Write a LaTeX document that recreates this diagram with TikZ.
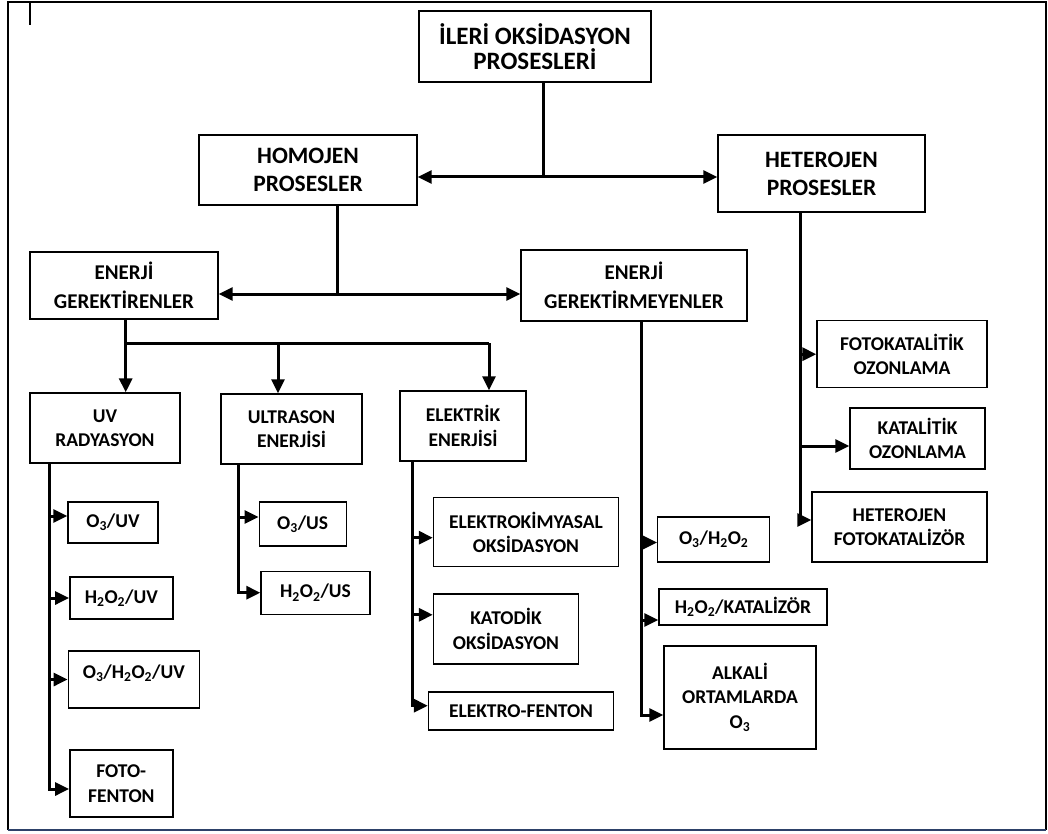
\documentclass[tikz,border=0pt]{standalone}
\usepackage{fontspec}
\setmainfont{Carlito}
\usepackage{tikz}
\usetikzlibrary{arrows.meta}
\definecolor{framebot}{RGB}{45,65,105}
\tikzstyle{box} = [draw, line width=1.4pt, inner sep=0pt, align=center]
\tikzstyle{lvlone} = [box, font=\fontsize{23.5}{28}\selectfont\bfseries]
\tikzstyle{lvltwo} = [box, font=\fontsize{21}{29}\selectfont\bfseries]
\tikzstyle{leaf} = [box, font=\fontsize{19.5}{24.5}\selectfont\bfseries]
\tikzstyle{trunk} = [draw, line width=3pt, line join=miter]
\tikzstyle{arr} = [trunk, -{Triangle[length=14pt,width=13pt]}]

\begin{document}
\begin{tikzpicture}[x=1pt,y=-1pt]
\useasboundingbox (0,0) rectangle (1048,834);
\draw[line width=1.3pt] (8,830) -- (8,2) -- (1046,2) -- (1046,830);
\draw[line width=2pt, framebot] (8,830) -- (1046,830);
\draw[line width=1.3pt] (30,3) -- (30,25);
%
\node[lvlone, font=\fontsize{25}{25}\selectfont\bfseries, minimum width=232, minimum height=71] (ileri) at (535,46.5) {İLERİ OKSİDASYON\\PROSESLERİ};
\node[lvlone, minimum width=218, minimum height=70] (homojen) at (308,170) {HOMOJEN\\PROSESLER};
\node[lvlone, minimum width=207, minimum height=77] (heterojen) at (821.5,173.5) {HETEROJEN\\PROSESLER};
%
\node[lvltwo, minimum width=188, minimum height=67] (gerektiren) at (124,285.5) {ENERJİ\\GEREKTİRENLER};
\node[lvltwo, minimum width=226, minimum height=71] (gerektirmeyen) at (634,285.3) {ENERJİ\\GEREKTİRMEYENLER};
%
\node[leaf, minimum width=150, minimum height=70] (uv) at (105,428) {UV\\RADYASYON};
\node[leaf, minimum width=141, minimum height=70] (ultrason) at (291.5,429) {ULTRASON\\ENERJİSİ};
\node[leaf, minimum width=126, minimum height=70] (elektrik) at (463,426) {ELEKTRİK\\ENERJİSİ};
%
\node[leaf, minimum width=90, minimum height=41] (ozuv) at (113,522.5) {O\textsubscript{3}/UV};
\node[leaf, minimum width=103, minimum height=42] (peruv) at (121.3,598) {H\textsubscript{2}O\textsubscript{2}/UV};
\node[leaf, minimum width=131, minimum height=57] (ozperuv) at (133.8,679.5) {O\textsubscript{3}/H\textsubscript{2}O\textsubscript{2}/UV\\[-8pt]\mbox{}};
\node[leaf, minimum width=103, minimum height=67] (fotofenton) at (121.3,783.5) {FOTO-\\FENTON};
%
\node[leaf, minimum width=87, minimum height=44] (ozus) at (302.7,524) {O\textsubscript{3}/US};
\node[leaf, minimum width=109, minimum height=43] (perus) at (315.5,592.7) {H\textsubscript{2}O\textsubscript{2}/US};
%
\node[leaf, minimum width=185, minimum height=69] (ekimya) at (526,532.2) {ELEKTROKİMYASAL\\OKSİDASYON};
\node[leaf, minimum width=145, minimum height=70] (katodik) at (506,628.8) {KATODİK\\OKSİDASYON};
\node[leaf, minimum width=185, minimum height=38] (efenton) at (521,711) {ELEKTRO-FENTON};
%
\node[leaf, minimum width=112, minimum height=45] (ozper) at (713.7,539.5) {O\textsubscript{3}/H\textsubscript{2}O\textsubscript{2}};
\node[leaf, minimum width=168, minimum height=36] (perkat) at (743,607) {H\textsubscript{2}O\textsubscript{2}/KATALİZÖR};
\node[leaf, minimum width=152, minimum height=103] (alkali) at (740,697.3) {ALKALİ\\ORTAMLARDA\\O\textsubscript{3}};
%
\node[leaf, minimum width=170, minimum height=67] (fotokat) at (902,354.2) {FOTOKATALİTİK\\OZONLAMA};
\node[leaf, minimum width=135, minimum height=61] (katoz) at (917.5,438.5) {KATALİTİK\\OZONLAMA};
\node[leaf, minimum width=175, minimum height=70] (hetfoto) at (899.5,527) {HETEROJEN\\FOTOKATALİZÖR};
%
% split points
\coordinate (s1) at (543,177);
\coordinate (s2) at (337.5,294);
\coordinate (s3) at (125.7,343);
\coordinate (s3us) at (278,343);
\coordinate (s3el) at (489,343);
\coordinate (tuv) at (49.3,789);
\coordinate (tus) at (238.3,592.7);
\coordinate (tel) at (412.7,705.7);
\coordinate (tgm) at (641.7,715);
\coordinate (thet) at (800,520);
%
\draw[trunk] (ileri.south -| s1) -- (s1);
\draw[arr] (s1) -- (s1 -| homojen.east);
\draw[arr] (s1) -- (s1 -| heterojen.west);
%
\draw[trunk] (homojen.south -| s2) -- (s2);
\draw[arr] (s2) -- (s2 -| gerektiren.east);
\draw[arr] (s2) -- (s2 -| gerektirmeyen.west);
%
\draw[trunk] (gerektiren.south -| s3) -- (s3) -- (s3el);
\draw[arr] (s3) -- (s3 |- uv.north);
\draw[arr] (s3us) -- (s3us |- ultrason.north);
\draw[arr] (s3el) -- (s3el |- elektrik.north);
%
\coordinate (a1) at ([yshift=6.5pt]ozuv.west);
\draw[arr] (uv.south -| tuv) -- (tuv) -- (tuv -| fotofenton.west);
\draw[arr] (tuv |- a1) -- (a1);
\draw[arr] (tuv |- peruv.west) -- (peruv.west);
\draw[arr] (tuv |- ozperuv.west) -- (ozperuv.west);
%
\coordinate (a2) at ([yshift=7pt]ozus.west);
\draw[arr] (ultrason.south -| tus) -- (tus) -- (tus -| perus.west);
\draw[arr] (tus |- a2) -- (a2);
%
\coordinate (a3) at ([yshift=-5.5pt]ekimya.west);
\coordinate (a4) at ([yshift=14pt]katodik.west);
\draw[arr] (elektrik.south -| tel) -- (tel) -- (tel -| efenton.west);
\draw[arr] (tel |- a3) -- (a3);
\draw[arr] (tel |- a4) -- (a4);
%
\coordinate (a5) at ([yshift=-3pt]ozper.west);
\coordinate (a6) at ([yshift=-13pt]perkat.west);
\draw[arr] (gerektirmeyen.south -| tgm) -- (tgm) -- (tgm -| alkali.west);
\draw[arr] (tgm |- a5) -- (a5);
\draw[arr] (tgm |- a6) -- (a6);
%
\coordinate (a7) at ([yshift=-7.5pt]katoz.west);
\draw[arr] (heterojen.south -| thet) -- (thet) -- (thet -| hetfoto.west);
\draw[arr] (thet |- fotokat.west) -- (fotokat.west);
\draw[arr] (thet |- a7) -- (a7);
\end{tikzpicture}
\end{document}
